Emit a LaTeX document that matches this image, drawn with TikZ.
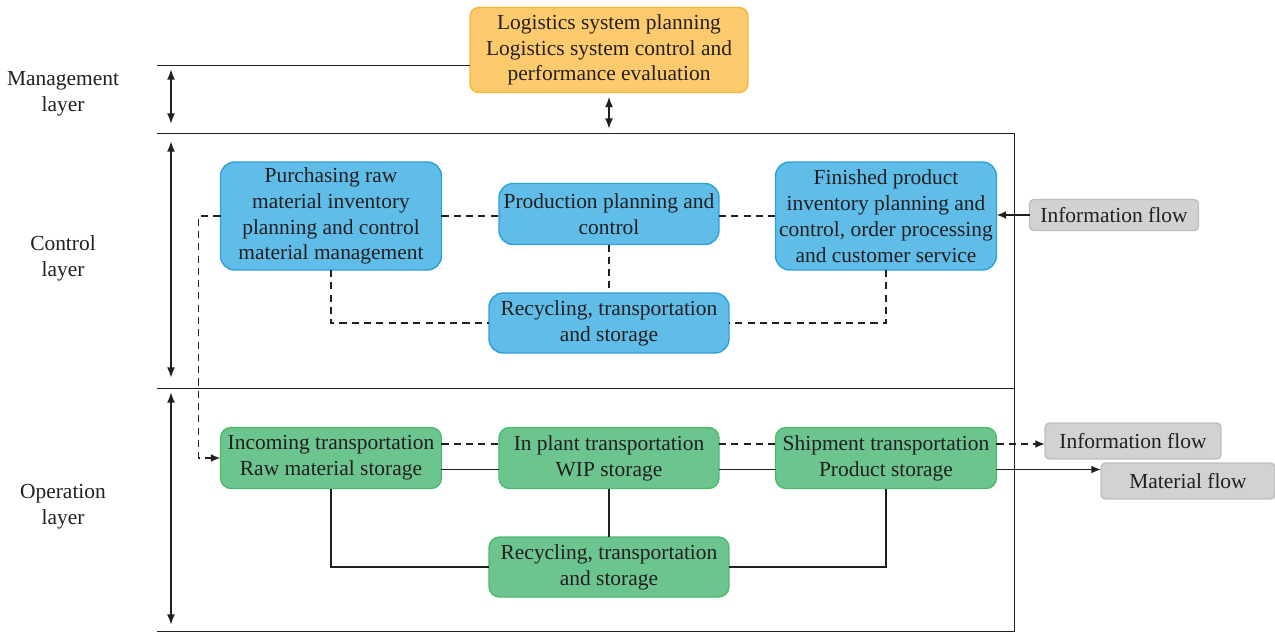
\documentclass[tikz,border=0pt]{standalone}
\usepackage{fontspec}
\setmainfont{Liberation Serif}
\usetikzlibrary{arrows.meta, positioning, calc}
\definecolor{boxblue}{HTML}{5FBDE8}
\definecolor{blueline}{HTML}{2E9FD9}
\definecolor{boxgreen}{HTML}{6CC48F}
\definecolor{greenline}{HTML}{4DB96C}
\definecolor{boxorange}{HTML}{FDCB6E}
\definecolor{orangeline}{HTML}{F6B633}
\definecolor{boxgray}{HTML}{D2D2D2}
\definecolor{grayline}{HTML}{BEBEBE}
\definecolor{ink}{HTML}{231F20}
\tikzset{
  align=center,
  every node/.style={text=ink, font=\fontsize{12.2}{14.7}\selectfont},
  box/.style={draw, line width=0.8pt, inner sep=0pt, outer sep=0pt},
  orgbox/.style={box, fill=boxorange, draw=orangeline, rounded corners=5pt, minimum width=5.56cm, minimum height=1.7cm},
  blubox/.style={box, fill=boxblue, draw=blueline, rounded corners=8pt},
  grnbox/.style={box, fill=boxgreen, draw=greenline, rounded corners=6pt},
  grybox/.style={box, fill=boxgray, draw=grayline, rounded corners=2.5pt},
  layer/.style={inner sep=0pt},
  frame/.style={line width=0.5pt, ink},
  dblarr/.style={{Latex[length=6pt,width=4.5pt]}-{Latex[length=6pt,width=4.5pt]}, line width=1.1pt, ink},
  dsh/.style={dashed, dash pattern=on 4pt off 3pt, line width=1pt, ink},
  dsharr/.style={dsh, -{Latex[length=5.5pt,width=4.5pt]}},
  sld/.style={line width=1pt, ink},
  arr/.style={sld, -{Latex[length=5.5pt,width=4.5pt]}}
}

\begin{document}
\begin{tikzpicture}[x=0.02cm, y=-0.02cm]
  \useasboundingbox (0,0) rectangle (1275,633);

  % layer names
  \node[layer] (mgl) at (63,94) {Management\\layer};
  \node[layer] (ctl) at (63,258) {Control\\layer};
  \node[layer] (opl) at (63,507) {Operation\\layer};

  % management
  \node[orgbox] (plan) at (609,50) {Logistics system planning\\Logistics system control and\\performance evaluation};

  % control layer
  \node[blubox, minimum width=4.42cm, minimum height=2.16cm] (pur) at (331,216) {Purchasing raw\\material inventory\\planning and control\\material management};
  \node[blubox, minimum width=4.4cm, minimum height=1.22cm] (prod) at (609,214) {Production planning and\\control};
  \node[blubox, minimum width=4.42cm, minimum height=2.16cm] (fin) at (886,216) {Finished product\\inventory planning and\\control, order processing\\and customer service};
  \node[blubox, minimum width=4.8cm, minimum height=1.2cm] (rec) at (609,323) {Recycling, transportation\\and storage};
  \node[grybox, minimum width=3.38cm, minimum height=0.62cm] (info) at (1114,215) {Information flow};

  % operation layer
  \node[grnbox, minimum width=4.42cm, minimum height=1.22cm] (inc) at (331,458) {Incoming transportation\\Raw material storage};
  \node[grnbox, minimum width=4.4cm, minimum height=1.22cm] (inp) at (609,458) {In plant transportation\\WIP storage};
  \node[grnbox, minimum width=4.42cm, minimum height=1.22cm] (ship) at (886,458) {Shipment transportation\\Product storage};
  \node[grnbox, minimum width=4.8cm, minimum height=1.2cm] (rec2) at (609,567) {Recycling, transportation\\and storage};
  \node[grybox, minimum width=3.52cm, minimum height=0.72cm] (info2) at (1133,441) {Information flow};
  \node[grybox, minimum width=3.48cm, minimum height=0.72cm] (mat) at (1188,481) {Material flow};

  % frame
  \coordinate (l0) at (157,65);
  \coordinate (l1) at (157,133);
  \coordinate (l2) at (157,388);
  \coordinate (l3) at (157,631);
  \coordinate (r1) at (1014,133);
  \coordinate (r3) at (1014,631);
  \draw[frame] (l0) -- (plan.west |- l0);
  \draw[frame] (l1) -- (r1) -- (r3) -- (l3);
  \draw[frame] (l2) -- (l2 -| r1);

  \draw[dblarr] (171,69) -- (171,124);
  \draw[dblarr] (171,141) -- (171,378);
  \draw[dblarr] (171,392) -- (171,625);
  \draw[dblarr] ([yshift=-0.08cm]plan.south) -- (609,129);

  % information links
  \draw[dsh] (pur.east) -- (pur.east -| prod.west);
  \draw[dsh] (fin.west -| prod.east) -- (fin.west);
  \draw[dsh] (prod.south) -- (rec.north);
  \draw[dsh] (pur.south) |- (rec.west);
  \draw[dsh] (fin.south) |- (rec.east);
  \draw[dsharr] (pur.west) -- ++(-22,0) |- (inc.west);
  \draw[arr] (info.west) -- (info.west -| fin.east);

  \draw[dsh] ([yshift=0.28cm]inc.east) -- ([yshift=0.28cm]inp.west);
  \draw[dsh] ([yshift=0.28cm]inp.east) -- ([yshift=0.28cm]ship.west);
  \draw[dsharr] ([yshift=0.28cm]ship.east) -- ([yshift=0.28cm]ship.east -| info2.west);

  % material links
  \draw[sld] ([yshift=-0.23cm]inc.east) -- ([yshift=-0.23cm]inp.west);
  \draw[sld] ([yshift=-0.23cm]inp.east) -- ([yshift=-0.23cm]ship.west);
  \draw[arr] ([yshift=-0.23cm]ship.east) -- ([yshift=-0.23cm]ship.east -| mat.west);
  \draw[sld] (inc.south) |- (rec2.west);
  \draw[sld] (inp.south) -- (rec2.north);
  \draw[sld] (ship.south) |- (rec2.east);
\end{tikzpicture}
\end{document}
